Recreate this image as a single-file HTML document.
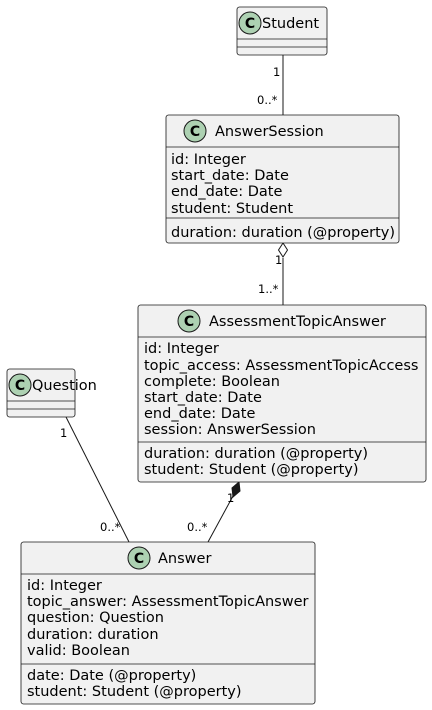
<!DOCTYPE html>
<html><head><meta charset="utf-8"><style>
html,body{margin:0;padding:0;background:#fff;}
svg{display:block;}
text{font-family:"DejaVu Sans","Liberation Sans",sans-serif;font-size:14.5px;fill:#000;}
.s{font-size:11.5px;}
</style></head><body>
<svg width="432" height="710" viewBox="0 0 432 710" xmlns="http://www.w3.org/2000/svg">
<g stroke="#181818" stroke-width="1" fill="none">
<line x1="283" y1="55" x2="283" y2="115"/>
<line x1="283" y1="258" x2="283" y2="305"/>
<line x1="66" y1="417" x2="129" y2="542"/>
<line x1="233" y1="496" x2="208" y2="542"/>
</g>
<polygon points="283,243 287.5,250 283,257 278.5,250" fill="#fff" stroke="#181818"/>
<polygon points="239,482 240,491 233,497 232,488" fill="#181818" stroke="#181818"/>

<g stroke="#181818" stroke-width="0.8" fill="#f1f1f1">
<rect x="237" y="7" width="90" height="48" rx="2.5"/>
<rect x="166" y="115" width="233" height="128" rx="2.5"/>
<rect x="138" y="305" width="288" height="177" rx="2.5"/>
<rect x="7" y="369" width="68" height="48" rx="2.5"/>
<rect x="21" y="542" width="294" height="162" rx="2.5"/>
</g>
<g stroke="#181818" stroke-width="0.8">
<line x1="237" y1="39" x2="327" y2="39"/><line x1="237" y1="47" x2="327" y2="47"/>
<line x1="166" y1="147" x2="399" y2="147"/><line x1="166" y1="218" x2="399" y2="218"/>
<line x1="138" y1="337" x2="426" y2="337"/><line x1="138" y1="442" x2="426" y2="442"/>
<line x1="7" y1="401" x2="75" y2="401"/><line x1="7" y1="409" x2="75" y2="409"/>
<line x1="21" y1="574" x2="315" y2="574"/><line x1="21" y1="664" x2="315" y2="664"/>
</g>
<g fill="#add1b2" stroke="#181818" stroke-width="1">
<circle cx="250" cy="23" r="11"/>
<circle cx="195" cy="131" r="11"/>
<circle cx="189" cy="321" r="11"/>
<circle cx="20" cy="385" r="11"/>
<circle cx="139" cy="558" r="11"/>
</g>
<g>
<text x="250" y="28" text-anchor="middle" style="font-weight:bold;font-size:14px">C</text>
<text x="195" y="136" text-anchor="middle" style="font-weight:bold;font-size:14px">C</text>
<text x="189" y="326" text-anchor="middle" style="font-weight:bold;font-size:14px">C</text>
<text x="20" y="390" text-anchor="middle" style="font-weight:bold;font-size:14px">C</text>
<text x="139" y="563" text-anchor="middle" style="font-weight:bold;font-size:14px">C</text>
</g>
<text x="262" y="28">Student</text>
<text x="215" y="136">AnswerSession</text>
<text x="209" y="326">AssessmentTopicAnswer</text>
<text x="32" y="390">Question</text>
<text x="158" y="563">Answer</text>

<text x="171" y="164">id: Integer</text>
<text x="171" y="180">start_date: Date</text>
<text x="171" y="196">end_date: Date</text>
<text x="171" y="213">student: Student</text>
<text x="171" y="237">duration: duration (@property)</text>

<text x="144" y="353">id: Integer</text>
<text x="144" y="370">topic_access: AssessmentTopicAccess</text>
<text x="144" y="386">complete: Boolean</text>
<text x="144" y="402">start_date: Date</text>
<text x="144" y="418">end_date: Date</text>
<text x="144" y="434">session: AnswerSession</text>
<text x="144" y="458">duration: duration (@property)</text>
<text x="144" y="474">student: Student (@property)</text>

<text x="27" y="590">id: Integer</text>
<text x="27" y="606">topic_answer: AssessmentTopicAnswer</text>
<text x="27" y="622">question: Question</text>
<text x="27" y="639">duration: duration</text>
<text x="27" y="655">valid: Boolean</text>
<text x="27" y="680">date: Date (@property)</text>
<text x="27" y="696">student: Student (@property)</text>

<text class="s" x="273" y="76">1</text>
<text class="s" x="257" y="104">0..*</text>
<text class="s" x="275" y="264">1</text>
<text class="s" x="258" y="293">1..*</text>
<text class="s" x="60" y="437">1</text>
<text class="s" x="100" y="531">0..*</text>
<text class="s" x="227" y="502">1</text>
<text class="s" x="187" y="531">0..*</text>
</svg>
</body></html>
